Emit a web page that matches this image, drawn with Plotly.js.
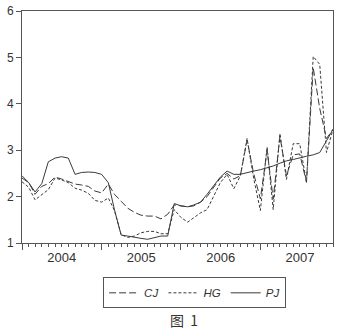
<!DOCTYPE html>
<html>
<head>
<meta charset="utf-8">
<script src="https://cdn.plot.ly/plotly-3.0.1.min.js"></script>
<style>
html,body{margin:0;padding:0;background:#fff;}
#chart{width:339px;height:333px;}
</style>
</head>
<body>
<div id="chart"></div>
<script>
var months = [
 '2004-01','2004-02','2004-03','2004-04','2004-05','2004-06','2004-07','2004-08','2004-09','2004-10','2004-11','2004-12',
 '2005-01','2005-02','2005-03','2005-04','2005-05','2005-06','2005-07','2005-08','2005-09','2005-10','2005-11','2005-12',
 '2006-01','2006-02','2006-03','2006-04','2006-05','2006-06','2006-07','2006-08','2006-09','2006-10','2006-11','2006-12',
 '2007-01','2007-02','2007-03','2007-04','2007-05','2007-06','2007-07','2007-08','2007-09','2007-10','2007-11','2007-12'
];
var CJ = [
 2.40,2.30,2.05,2.22,2.28,2.42,2.38,2.33,2.27,2.25,2.22,2.12,
 2.08,2.27,2.05,1.90,1.75,1.66,1.60,1.58,1.58,1.52,1.62,1.82,
 1.80,1.78,1.80,1.88,2.00,2.20,2.40,2.50,2.38,2.45,3.22,2.50,
 1.95,3.00,1.95,3.30,2.45,2.90,2.92,2.31,4.78,3.90,3.25,3.45
];
var HG = [
 2.32,2.20,1.93,2.05,2.15,2.40,2.36,2.30,2.18,2.14,2.07,1.92,
 1.88,1.97,1.70,1.18,1.12,1.15,1.22,1.25,1.25,1.20,1.20,1.72,
 1.55,1.45,1.55,1.65,1.72,2.00,2.30,2.48,2.17,2.45,3.25,2.40,
 1.70,3.07,1.72,3.36,2.37,3.14,3.14,2.31,5.02,4.85,2.95,3.45
];
var PJ = [
 2.45,2.30,2.10,2.28,2.75,2.83,2.86,2.83,2.48,2.52,2.53,2.52,
 2.48,2.30,1.72,1.17,1.15,1.12,1.10,1.08,1.12,1.15,1.15,1.85,
 1.80,1.78,1.82,1.88,2.05,2.25,2.42,2.55,2.48,2.48,2.52,2.55,
 2.58,2.62,2.66,2.72,2.77,2.80,2.84,2.87,2.90,2.95,3.20,3.45
];
var seriesNames = ['CJ','HG','PJ'];
var lineColor = '#3a3a3a';
var axisColor = '#555555';

var traces = [
 {x: months, y: CJ, name: seriesNames[0], type: 'scatter', mode: 'lines',
  line: {color: lineColor, width: 1, dash: '7px,3px'}},
 {x: months, y: HG, name: seriesNames[1], type: 'scatter', mode: 'lines',
  line: {color: lineColor, width: 1, dash: '3px,2px'}},
 {x: months, y: PJ, name: seriesNames[2], type: 'scatter', mode: 'lines',
  line: {color: lineColor, width: 1}}
];

var layout = {
 width: 339, height: 333,
 margin: {l: 22, r: 6, t: 11, b: 90},
 paper_bgcolor: '#ffffff', plot_bgcolor: '#ffffff',
 font: {family: 'Liberation Sans, Arial, sans-serif', color: '#333'},
 showlegend: true,
 legend: {
  orientation: 'h', x: 0.555, xanchor: 'center', y: -0.148, yanchor: 'top',
  bordercolor: axisColor, borderwidth: 1,
  font: {size: 11.5, style: 'italic', color: '#333'},
  itemwidth: 30, tracegroupgap: 0
 },
 xaxis: {
  type: 'date',
  range: ['2004-01-01', '2007-12-01'],
  tick0: '2004-01-01', dtick: 'M12',
  ticklabelmode: 'period', tickformat: '%Y',
  ticks: 'outside', ticklen: 6, tickcolor: axisColor, tickwidth: 1,
  ticklabelstandoff: -4,
  minor: {dtick: 'M1', tick0: '2004-01-01', ticks: 'outside', ticklen: 3, tickcolor: axisColor, tickwidth: 1, showgrid: false},
  showline: true, linecolor: axisColor, linewidth: 1, mirror: true,
  showgrid: false, zeroline: false,
  tickfont: {size: 13, color: '#333'}
 },
 yaxis: {
  range: [1, 6], dtick: 1,
  ticks: 'outside', ticklen: 5, tickcolor: axisColor, tickwidth: 1,
  showline: true, linecolor: axisColor, linewidth: 1, mirror: true,
  showgrid: false, zeroline: false,
  tickfont: {size: 12, color: '#333'}
 },
 annotations: [
  {text: '图  1', xref: 'paper', yref: 'paper', x: 0.52, y: -0.33, xanchor: 'center', yanchor: 'middle',
   showarrow: false, font: {family: 'Noto Sans CJK SC', size: 14, color: '#333'}}
 ]
};

Plotly.newPlot('chart', traces, layout, {displayModeBar: false, staticPlot: true});
</script>
</body>
</html>
